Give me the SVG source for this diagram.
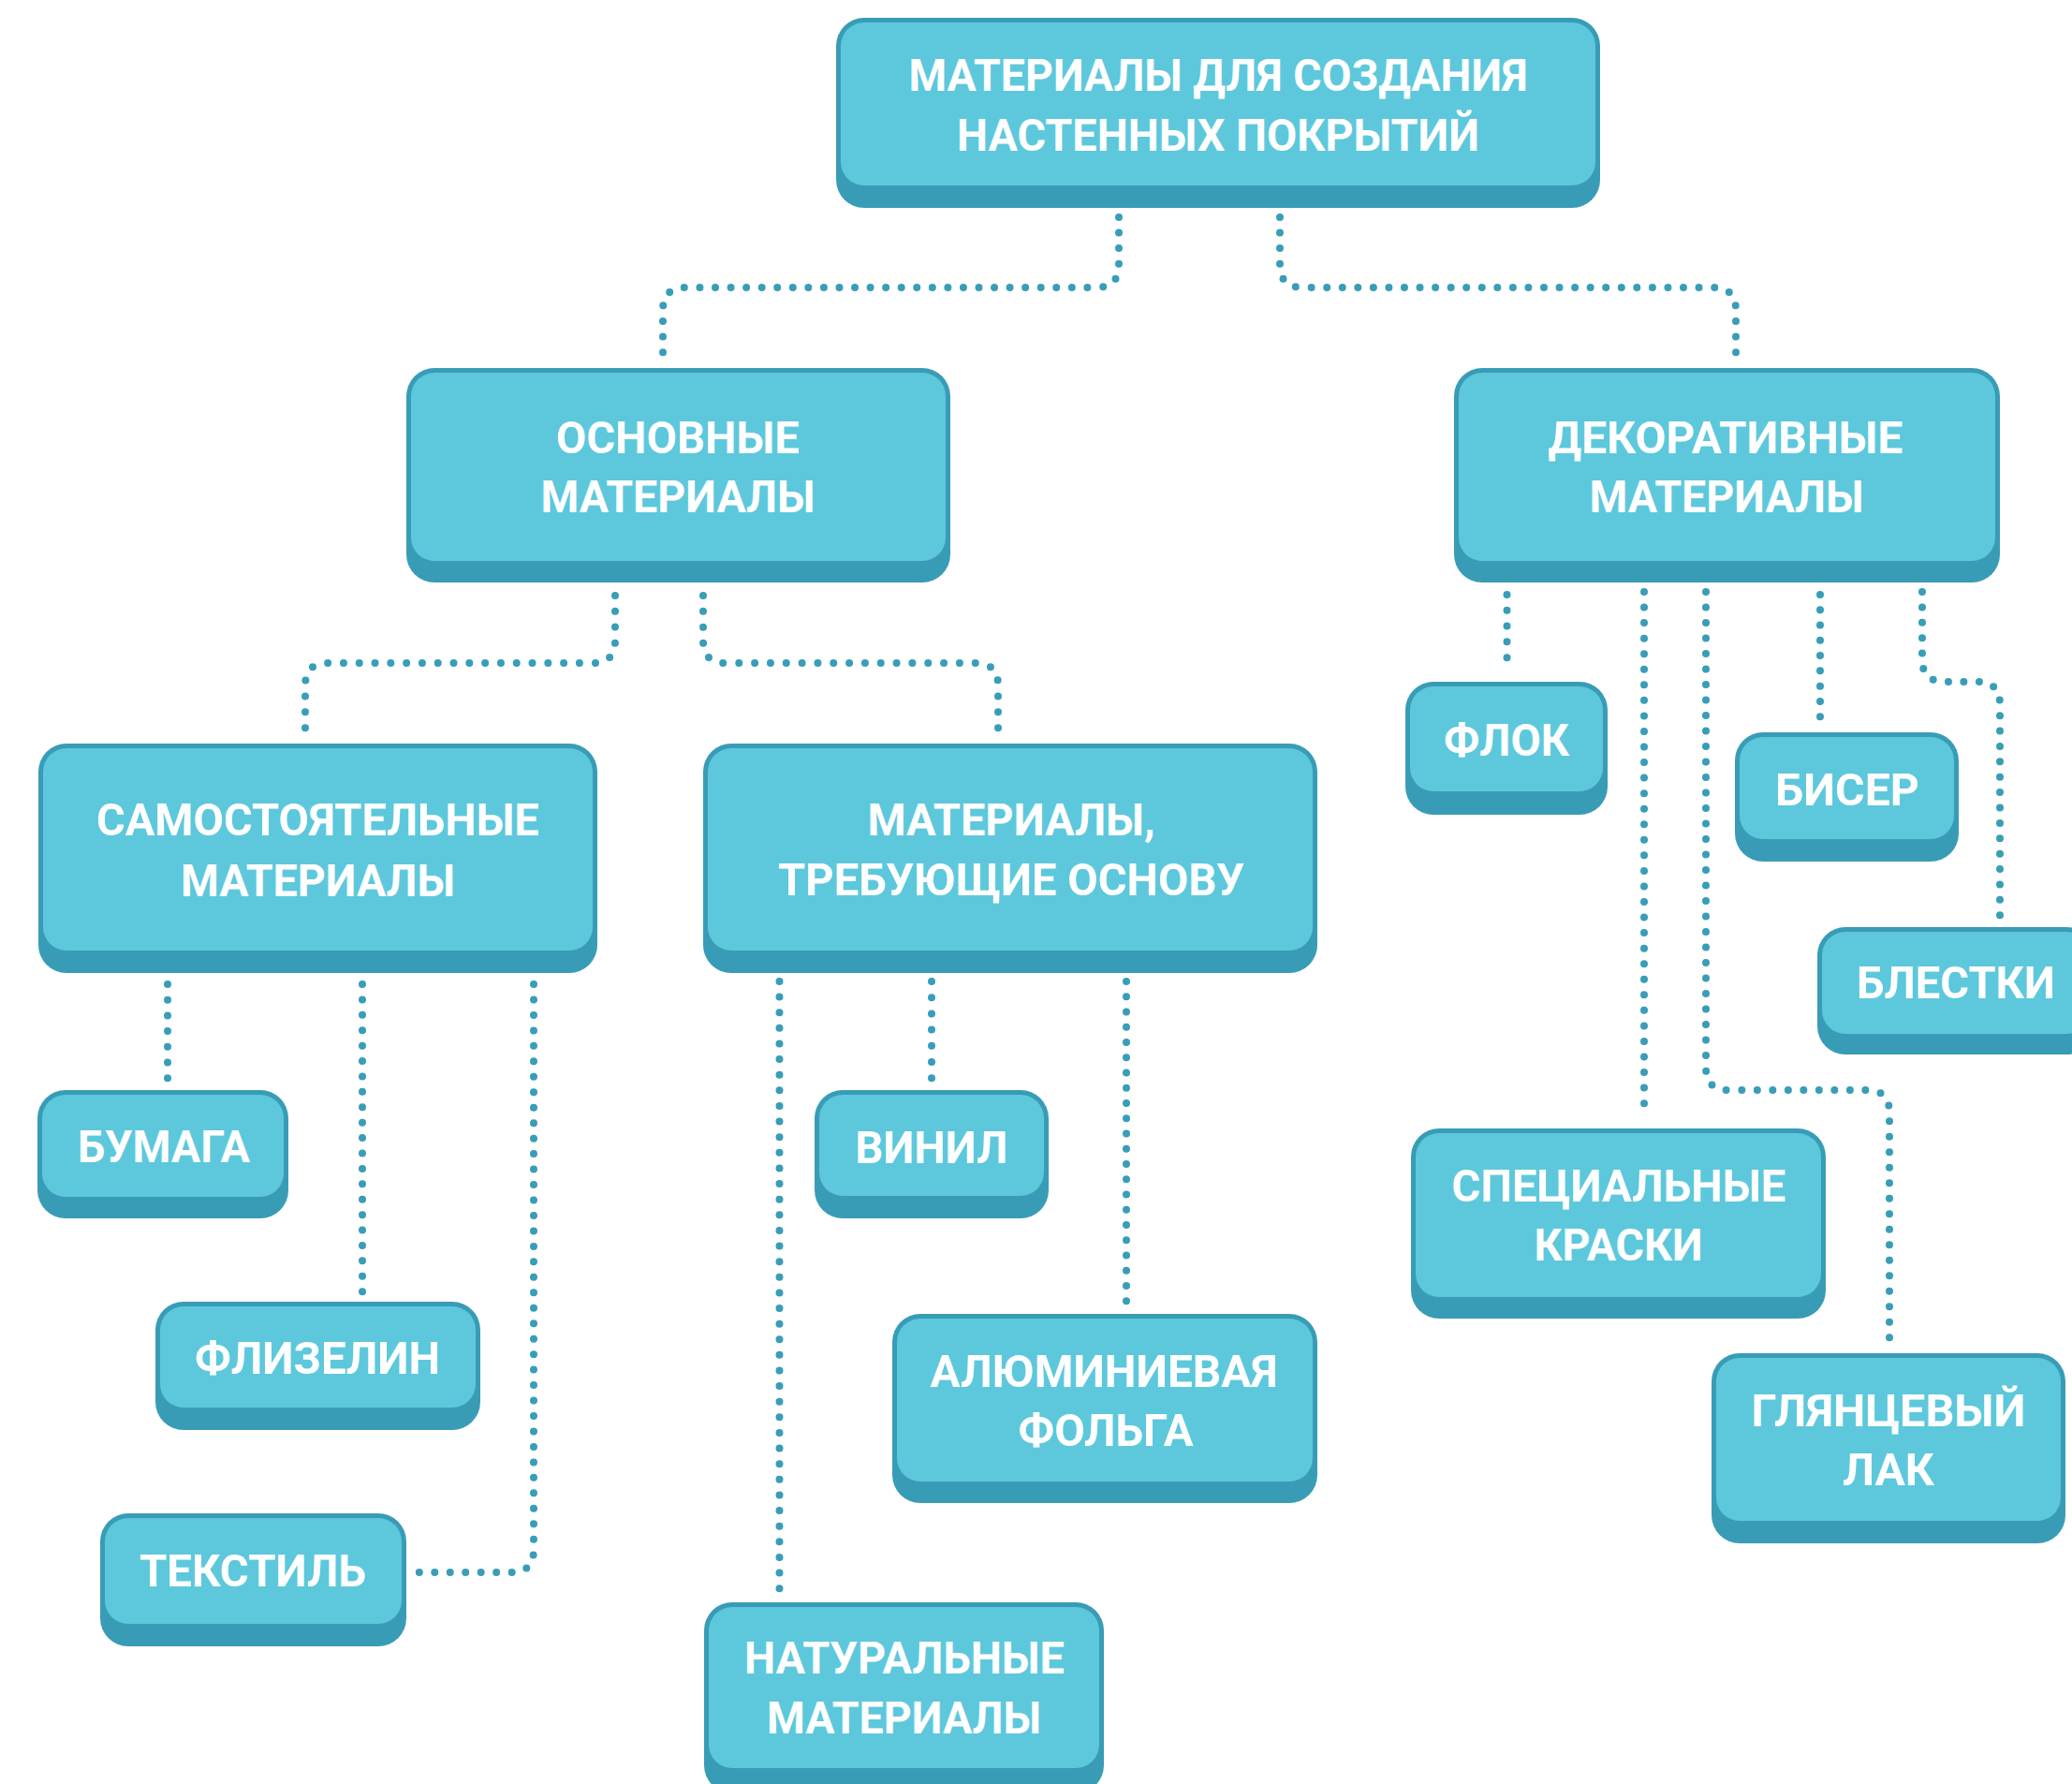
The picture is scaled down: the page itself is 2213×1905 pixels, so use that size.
<svg xmlns="http://www.w3.org/2000/svg" width="2213" height="1905" viewBox="0 0 2213 1905">
<style>
.sh{fill:#399CB7}
.fc{fill:#5DC8DC}
.t{font-family:Roboto,"Liberation Sans",sans-serif;font-weight:700;font-size:49px;fill:#FFFFFF;text-anchor:middle}
.c{fill:none;stroke:#3A9DB8;stroke-width:8;stroke-linecap:round;stroke-dasharray:0 1}
</style>
<rect width="2213" height="1905" fill="#FFFFFF"/>
<g id="connectors">
<path class="c" pathLength="37.05" d="M1195,232 V283 Q1195,307 1171,307 H732 Q708,307 708,331 V377"/>
<path class="c" pathLength="37.05" d="M1367,232 V283 Q1367,307 1391,307 H1830 Q1854,307 1854,331 V377"/>
<path class="c" pathLength="27.05" d="M657,636 V684 Q657,708 633,708 H350 Q326,708 326,732 V778"/>
<path class="c" pathLength="26.05" d="M751,636 V684 Q751,708 775,708 H1042 Q1066,708 1066,732 V778"/>
<path class="c" pathLength="6.05" d="M179,1051 V1152"/>
<path class="c" pathLength="20.05" d="M387,1051 V1380"/>
<path class="c" pathLength="45.05" d="M570,1051 V1655 Q570,1679 546,1679 H447"/>
<path class="c" pathLength="39.05" d="M832.5,1048 V1697"/>
<path class="c" pathLength="6.05" d="M995,1048 V1152"/>
<path class="c" pathLength="21.05" d="M1203,1048 V1390"/>
<path class="c" pathLength="4.05" d="M1609.5,635 V703"/>
<path class="c" pathLength="33.05" d="M1756,632 V1179"/>
<path class="c" pathLength="59.05" d="M1822,632 V1140 Q1822,1164 1846,1164 H1994 Q2018,1164 2018,1188 V1429"/>
<path class="c" pathLength="8.05" d="M1944,635 V766"/>
<path class="c" pathLength="25.05" d="M2053,632 V704 Q2053,728 2077,728 H2112 Q2136,728 2136,752 V978"/>
</g>
<g id="n-root">
<rect class="sh" x="893" y="19" width="816" height="203" rx="30"/>
<rect class="fc" x="898" y="24" width="806" height="174" rx="25"/>
<text class="t" x="1301" y="97" textLength="661" lengthAdjust="spacingAndGlyphs">МАТЕРИАЛЫ ДЛЯ СОЗДАНИЯ</text>
<text class="t" x="1301" y="161" textLength="558" lengthAdjust="spacingAndGlyphs">НАСТЕННЫХ ПОКРЫТИЙ</text>
</g>
<g id="n-osnovnye">
<rect class="sh" x="434" y="393" width="581" height="229" rx="30"/>
<rect class="fc" x="439" y="398" width="571" height="201" rx="25"/>
<text class="t" x="724" y="484" textLength="260" lengthAdjust="spacingAndGlyphs">ОСНОВНЫЕ</text>
<text class="t" x="724" y="547" textLength="293" lengthAdjust="spacingAndGlyphs">МАТЕРИАЛЫ</text>
</g>
<g id="n-dekor">
<rect class="sh" x="1553" y="393" width="583" height="229" rx="30"/>
<rect class="fc" x="1558" y="398" width="573" height="201" rx="25"/>
<text class="t" x="1843" y="484" textLength="379" lengthAdjust="spacingAndGlyphs">ДЕКОРАТИВНЫЕ</text>
<text class="t" x="1844" y="547" textLength="293" lengthAdjust="spacingAndGlyphs">МАТЕРИАЛЫ</text>
</g>
<g id="n-samost">
<rect class="sh" x="41" y="794" width="597" height="245" rx="30"/>
<rect class="fc" x="46" y="799" width="587" height="216" rx="25"/>
<text class="t" x="339.5" y="892" textLength="473" lengthAdjust="spacingAndGlyphs">САМОСТОЯТЕЛЬНЫЕ</text>
<text class="t" x="339.5" y="957" textLength="293" lengthAdjust="spacingAndGlyphs">МАТЕРИАЛЫ</text>
</g>
<g id="n-treb">
<rect class="sh" x="751" y="794" width="656" height="245" rx="30"/>
<rect class="fc" x="756" y="799" width="646" height="216" rx="25"/>
<text class="t" x="1080" y="892" textLength="307" lengthAdjust="spacingAndGlyphs">МАТЕРИАЛЫ,</text>
<text class="t" x="1080" y="956" textLength="498" lengthAdjust="spacingAndGlyphs">ТРЕБУЮЩИЕ ОСНОВУ</text>
</g>
<g id="n-flok">
<rect class="sh" x="1501" y="728" width="216" height="142" rx="30"/>
<rect class="fc" x="1506" y="733" width="206" height="112" rx="25"/>
<text class="t" x="1609" y="807" textLength="134" lengthAdjust="spacingAndGlyphs">ФЛОК</text>
</g>
<g id="n-biser">
<rect class="sh" x="1853" y="782" width="239" height="138" rx="30"/>
<rect class="fc" x="1858" y="787" width="229" height="109" rx="25"/>
<text class="t" x="1973" y="860" textLength="154" lengthAdjust="spacingAndGlyphs">БИСЕР</text>
</g>
<g id="n-blestki">
<rect class="sh" x="1941" y="990" width="296" height="136" rx="30"/>
<rect class="fc" x="1946" y="995" width="286" height="109" rx="25"/>
<text class="t" x="2089" y="1066" textLength="212" lengthAdjust="spacingAndGlyphs">БЛЕСТКИ</text>
</g>
<g id="n-spec">
<rect class="sh" x="1507" y="1205" width="443" height="203" rx="30"/>
<rect class="fc" x="1512" y="1210" width="433" height="175" rx="25"/>
<text class="t" x="1729" y="1283" textLength="357" lengthAdjust="spacingAndGlyphs">СПЕЦИАЛЬНЫЕ</text>
<text class="t" x="1728.5" y="1346" textLength="180" lengthAdjust="spacingAndGlyphs">КРАСКИ</text>
</g>
<g id="n-lak">
<rect class="sh" x="1828" y="1445" width="378" height="203" rx="30"/>
<rect class="fc" x="1833" y="1450" width="368" height="174" rx="25"/>
<text class="t" x="2017" y="1523" textLength="293" lengthAdjust="spacingAndGlyphs">ГЛЯНЦЕВЫЙ</text>
<text class="t" x="2017" y="1586" textLength="98" lengthAdjust="spacingAndGlyphs">ЛАК</text>
</g>
<g id="n-bumaga">
<rect class="sh" x="40" y="1164" width="268" height="137" rx="30"/>
<rect class="fc" x="45" y="1169" width="258" height="109" rx="25"/>
<text class="t" x="175" y="1241" textLength="184" lengthAdjust="spacingAndGlyphs">БУМАГА</text>
</g>
<g id="n-flizelin">
<rect class="sh" x="166" y="1390" width="347" height="137" rx="30"/>
<rect class="fc" x="171" y="1395" width="337" height="108" rx="25"/>
<text class="t" x="339" y="1467" textLength="262" lengthAdjust="spacingAndGlyphs">ФЛИЗЕЛИН</text>
</g>
<g id="n-tekstil">
<rect class="sh" x="107" y="1616" width="327" height="142" rx="30"/>
<rect class="fc" x="112" y="1621" width="317" height="113" rx="25"/>
<text class="t" x="270" y="1694" textLength="242" lengthAdjust="spacingAndGlyphs">ТЕКСТИЛЬ</text>
</g>
<g id="n-vinil">
<rect class="sh" x="870" y="1164" width="250" height="137" rx="30"/>
<rect class="fc" x="875" y="1169" width="240" height="108" rx="25"/>
<text class="t" x="995" y="1242" textLength="163" lengthAdjust="spacingAndGlyphs">ВИНИЛ</text>
</g>
<g id="n-folga">
<rect class="sh" x="953" y="1403" width="454" height="202" rx="30"/>
<rect class="fc" x="958" y="1408" width="444" height="174" rx="25"/>
<text class="t" x="1179" y="1481" textLength="371" lengthAdjust="spacingAndGlyphs">АЛЮМИНИЕВАЯ</text>
<text class="t" x="1181" y="1544" textLength="187" lengthAdjust="spacingAndGlyphs">ФОЛЬГА</text>
</g>
<g id="n-natur">
<rect class="sh" x="752" y="1711" width="427" height="204" rx="30"/>
<rect class="fc" x="757" y="1716" width="417" height="172" rx="25"/>
<text class="t" x="966" y="1787" textLength="342" lengthAdjust="spacingAndGlyphs">НАТУРАЛЬНЫЕ</text>
<text class="t" x="965.5" y="1851" textLength="293" lengthAdjust="spacingAndGlyphs">МАТЕРИАЛЫ</text>
</g>
</svg>
